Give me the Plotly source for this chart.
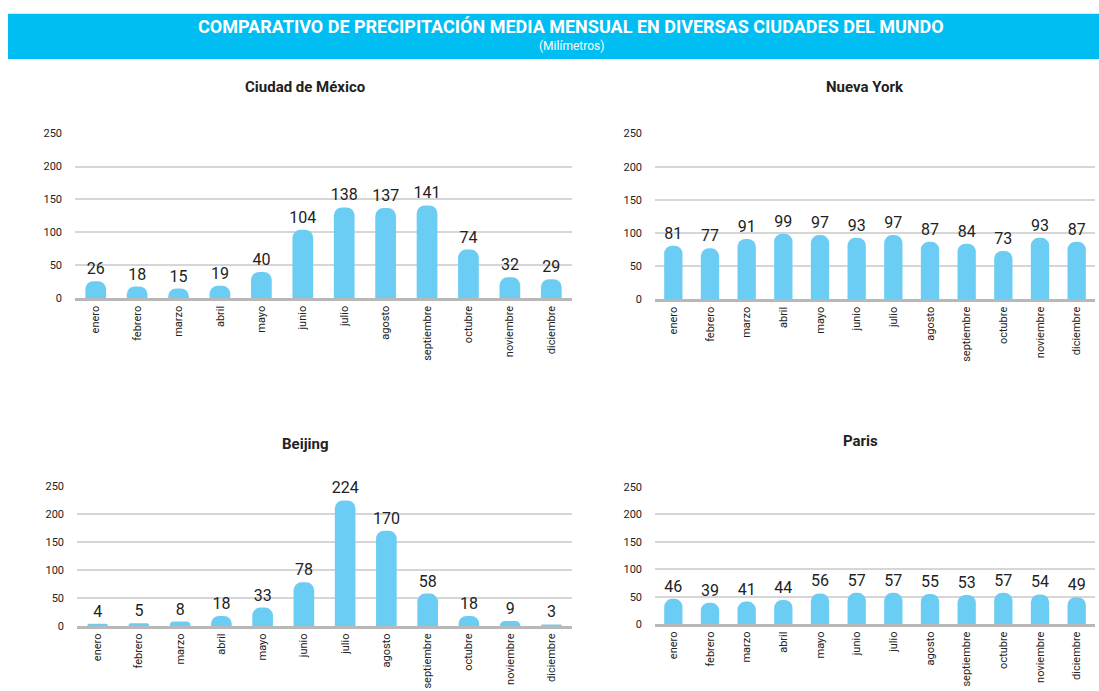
import plotly.graph_objects as go

W, H = 1099, 691

meses = ['enero', 'febrero', 'marzo', 'abril', 'mayo', 'junio', 'julio',
         'agosto', 'septiembre', 'octubre', 'noviembre', 'diciembre']

ciudades = ['Ciudad de México', 'Nueva York', 'Beijing', 'Paris']
mexico = [26, 18, 15, 19, 40, 104, 138, 137, 141, 74, 32, 29]
nueva_york = [81, 77, 91, 99, 97, 93, 97, 87, 84, 73, 93, 87]
beijing = [4, 5, 8, 18, 33, 78, 224, 170, 58, 18, 9, 3]
paris = [46, 39, 41, 44, 56, 57, 57, 55, 53, 57, 54, 49]
y_ticks = [0, 50, 100, 150, 200, 250]

series = [mexico, nueva_york, beijing, paris]

# plot areas in pixels: (left, right, top, bottom)
boxes = [
    (75, 572, 130, 298),
    (655, 1095, 130, 299),
    (77, 572, 489, 632),
    (655, 1095, 490, 630),
]
title_pos = [(305, 83), (865, 83), (305, 446), (860, 443)]

BAR = '#6ccdf4'
TXT = '#222222'
NARROW = 'Liberation Sans Narrow, Roboto, sans-serif'

fig = go.Figure()

for i, (vals, box) in enumerate(zip(series, boxes)):
    n = '' if i == 0 else str(i + 1)
    fig.add_trace(go.Bar(
        x=meses, y=vals, xaxis='x' + n, yaxis='y' + n,
        marker=dict(color=BAR, cornerradius=8, line=dict(width=0)),
        width=0.5,
        text=[str(v) for v in vals], textposition='outside',
        constraintext='none',
        textfont=dict(size=16, color=TXT, family=NARROW),
        cliponaxis=False, showlegend=False,
    ))
    l, r, t, b = box
    fig.update_layout(**{
        'xaxis' + n: dict(
            domain=[l / W, r / W], anchor='y' + n,
            tickangle=-90, tickfont=dict(size=11, color=TXT, family=NARROW),
            showline=True, linecolor='#b8b8b8', linewidth=3,
            showgrid=False, ticks='', fixedrange=True,
        ),
        'yaxis' + n: dict(
            domain=[1 - b / H, 1 - t / H], anchor='x' + n,
            range=[0, 250], tickvals=y_ticks,
            tickfont=dict(size=11, color=TXT, family=NARROW),
            showgrid=True, gridcolor='#d6d6d6', gridwidth=1.5,
            zeroline=False, ticklabelstandoff=12, fixedrange=True,
        ),
    })
    tx, ty = title_pos[i]
    fig.add_annotation(
        x=tx / W, y=1 - ty / H, xref='paper', yref='paper',
        xanchor='center', yanchor='middle',
        text='<b>' + ciudades[i] + '</b>', showarrow=False,
        font=dict(size=15, color=TXT, family='Roboto, sans-serif'),
    )

# header band
fig.add_shape(type='rect', xref='paper', yref='paper',
              x0=8 / W, x1=1, y0=1 - 54 / H, y1=1 - 8 / H,
              fillcolor='#00bef2', line=dict(width=0), layer='below')
fig.add_annotation(
    x=0.52, y=1 - 21 / H, xref='paper', yref='paper', showarrow=False,
    xanchor='center', yanchor='middle',
    text='<b>COMPARATIVO DE PRECIPITACIÓN MEDIA MENSUAL EN DIVERSAS CIUDADES DEL MUNDO</b>',
    font=dict(size=18, color='white', family=NARROW),
)
fig.add_annotation(
    x=0.52, y=1 - 41 / H, xref='paper', yref='paper', showarrow=False,
    xanchor='center', yanchor='middle',
    text='(Milímetros)', font=dict(size=12, color='white', family=NARROW),
)

fig.update_layout(
    width=W, height=H, margin=dict(l=0, r=0, t=0, b=0),
    paper_bgcolor='white', plot_bgcolor='white',
    bargap=0.5,
)

fig.write_html('out.html', config={'displayModeBar': False},
               post_script="document.body.style.margin='0';")
